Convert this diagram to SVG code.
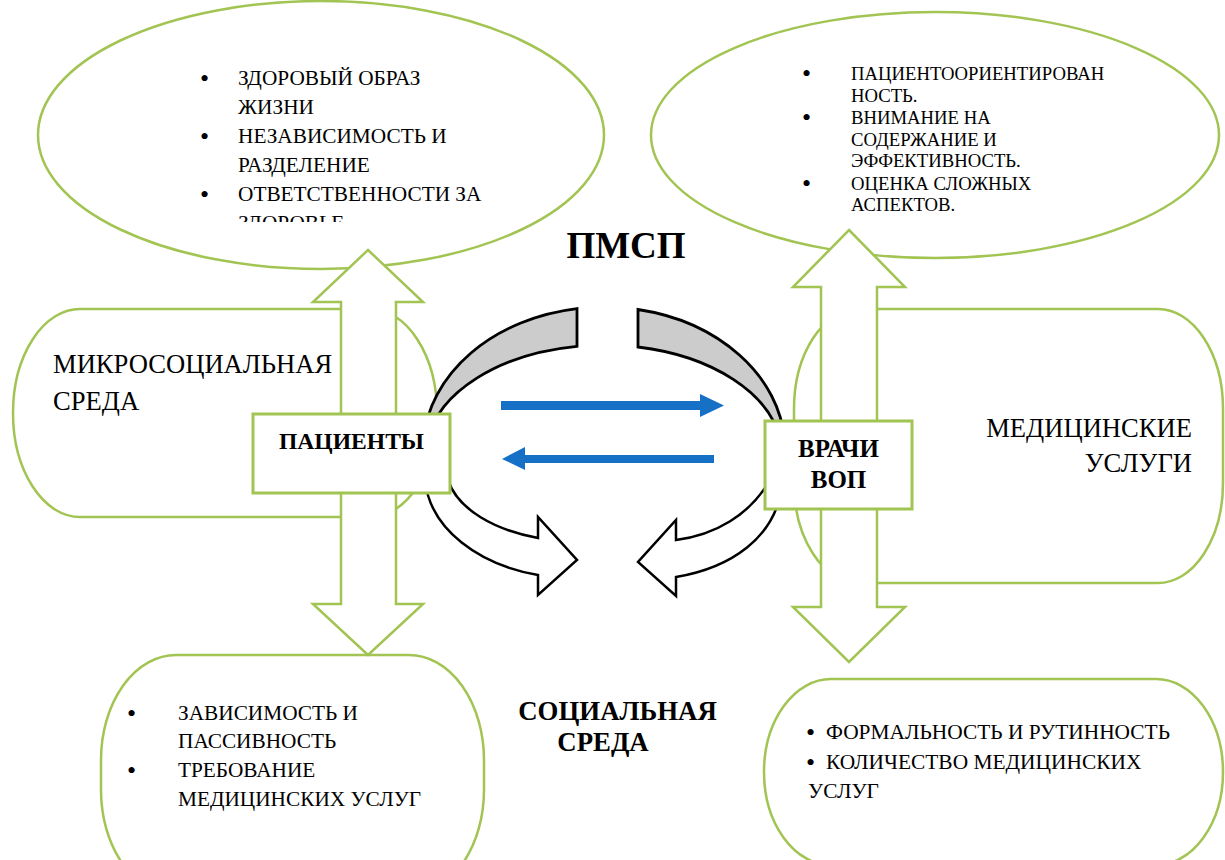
<svg xmlns="http://www.w3.org/2000/svg" width="1225" height="860" viewBox="0 0 1225 860">
<style>
.g{fill:#fff;stroke:#A2C452;stroke-width:2.5}
.box{fill:#fff;stroke:#A2C452;stroke-width:3}
text{font-family:'Liberation Serif','DejaVu Serif','Times New Roman',serif;fill:#000}
.b{font-weight:bold}
.gray{fill:#CCCCCC;stroke:#000;stroke-width:2.8;stroke-linejoin:miter}
.wa{fill:#fff;stroke:#000;stroke-width:2.5;stroke-linejoin:miter}
.blue{fill:#1670C6}
.bu{font-size:26px}
</style>
<defs>
<clipPath id="clipTL"><rect x="0" y="0" width="700" height="222"/></clipPath>
</defs>
<rect width="1225" height="860" fill="#fff"/>

<g id="ellipse-top-left">
<ellipse class="g" cx="321" cy="135" rx="283" ry="134"/>
<g font-size="21.3" clip-path="url(#clipTL)">
<text class="bu" x="200" y="87">•</text><text x="238" y="85">ЗДОРОВЫЙ ОБРАЗ</text>
<text x="238" y="114">ЖИЗНИ</text>
<text class="bu" x="200" y="145">•</text><text x="238" y="143">НЕЗАВИСИМОСТЬ И</text>
<text x="238" y="172">РАЗДЕЛЕНИЕ</text>
<text class="bu" x="200" y="203">•</text><text x="238" y="201">ОТВЕТСТВЕННОСТИ ЗА</text>
<text x="238" y="230">ЗДОРОВЬЕ</text>
</g>
</g>

<g id="ellipse-top-right">
<ellipse class="g" cx="935" cy="135" rx="284" ry="123"/>
<g font-size="18.7">
<text class="bu" x="802" y="82">•</text><text x="851" y="80">ПАЦИЕНТООРИЕНТИРОВАН</text>
<text x="851" y="102">НОСТЬ.</text>
<text class="bu" x="802" y="126">•</text><text x="851" y="124">ВНИМАНИЕ НА</text>
<text x="851" y="146">СОДЕРЖАНИЕ И</text>
<text x="851" y="167">ЭФФЕКТИВНОСТЬ.</text>
<text class="bu" x="802" y="192">•</text><text x="851" y="190">ОЦЕНКА СЛОЖНЫХ</text>
<text x="851" y="211">АСПЕКТОВ.</text>
</g>
</g>

<g id="microsocial">
<rect class="g" x="13" y="309" width="424" height="208" rx="67" ry="104"/>
<text font-size="26.6" x="53" y="373">МИКРОСОЦИАЛЬНАЯ</text>
<text font-size="26.6" x="53" y="410">СРЕДА</text>
</g>

<g id="medical-services">
<rect class="g" x="794" y="309" width="429" height="274" rx="65" ry="100"/>
<text font-size="26.6" x="1192" y="437" text-anchor="end">МЕДИЦИНСКИЕ</text>
<text font-size="26.6" x="1192" y="472" text-anchor="end">УСЛУГИ</text>
</g>

<g id="bottom-left">
<rect class="g" x="101" y="655" width="383" height="240" rx="75" ry="105"/>
<g font-size="21.3">
<text class="bu" x="127" y="722">•</text><text x="178" y="720">ЗАВИСИМОСТЬ И</text>
<text x="178" y="748">ПАССИВНОСТЬ</text>
<text class="bu" x="127" y="779">•</text><text x="178" y="777">ТРЕБОВАНИЕ</text>
<text x="178" y="806">МЕДИЦИНСКИХ УСЛУГ</text>
</g>
</g>

<g id="bottom-right">
<rect class="g" x="764" y="679" width="459" height="186" rx="67" ry="93"/>
<g font-size="21.4">
<text class="bu" x="806" y="741">•</text><text x="826" y="739">ФОРМАЛЬНОСТЬ И РУТИННОСТЬ</text>
<text class="bu" x="806" y="771">•</text><text x="826" y="769">КОЛИЧЕСТВО МЕДИЦИНСКИХ</text>
<text x="808" y="798">УСЛУГ</text>
</g>
</g>

<g id="connectors">
<path class="g" d="M368,250 L423,302 L396,302 L396,604 L423,604 L368,655 L313,604 L341,604 L341,302 L313,302 Z"/>
<path class="g" d="M849,230 L905,287 L877,287 L877,607 L905,607 L849,662 L793,607 L821,607 L821,287 L793,287 Z"/>
<path class="gray" d="M577,308.6 A181,143 0 0 0 423.4,440 L427.7,440 A178,110 0 0 1 577,346.3 Z"/>
<path class="gray" d="M638,309.5 A181,143 0 0 1 784.6,440 L780.3,440 A178,110 0 0 0 638,347 Z"/>
<path class="wa" d="M425,480 C430,530 480,565 538,575 L538,595 L577,560 L538,517 L538,538 C495,530 458,510 448,480 Z"/>
<path class="wa" d="M782,485 C776,538 730,568 676,577 L676,596 L638,562 L676,520 L676,540 C715,535 750,515 770,480 Z"/>
<path class="blue" d="M501,401 L700,401 L700,394 L724,405.5 L700,417 L700,410 L501,410 Z"/>
<path class="blue" d="M714,455 L525,455 L525,447 L502,459 L525,470 L525,463 L714,463 Z"/>
</g>

<g id="patients">
<rect class="box" x="253" y="414" width="197" height="79"/>
<text class="b" font-size="23.6" x="351.5" y="449" text-anchor="middle">ПАЦИЕНТЫ</text>
</g>

<g id="doctors">
<rect class="box" x="765" y="421" width="147" height="88"/>
<text class="b" font-size="25" x="838.5" y="457" text-anchor="middle">ВРАЧИ</text>
<text class="b" font-size="25" x="838.5" y="488" text-anchor="middle">ВОП</text>
</g>

<g id="pmsp">
<text class="b" font-size="37" x="626" y="258" text-anchor="middle">ПМСП</text>
</g>

<g id="social">
<text class="b" font-size="26.8" x="617.5" y="720" text-anchor="middle">СОЦИАЛЬНАЯ</text>
<text class="b" font-size="26.8" x="603" y="751" text-anchor="middle">СРЕДА</text>
</g>
</svg>
